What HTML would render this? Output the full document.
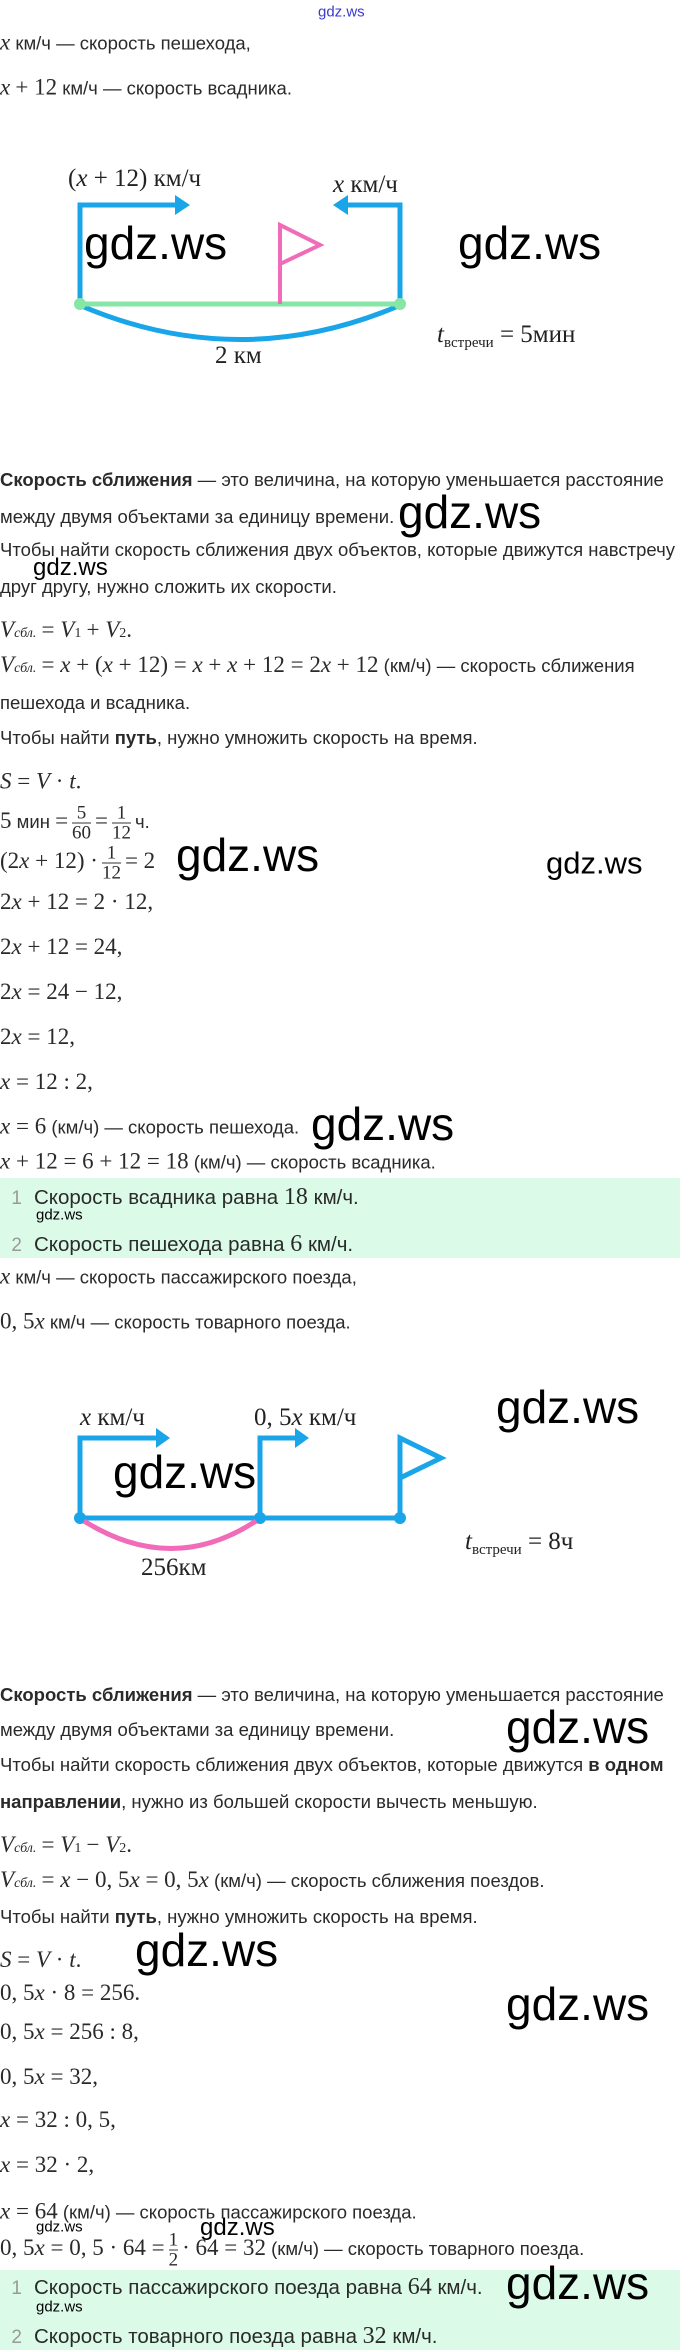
<!DOCTYPE html>
<html><head><meta charset="utf-8"><style>
body{margin:0;width:680px;height:2350px;position:relative;background:#fff;overflow:hidden;font-family:"Liberation Sans",sans-serif;color:#2a2a2a}
.t{position:absolute;left:0;white-space:nowrap;font-size:18.5px;line-height:22px;transform:translateY(-50%)}
i{font-family:"Liberation Serif",serif;font-style:italic;font-size:23px}
.s{font-family:"Liberation Serif",serif;font-size:23px}
b{font-weight:bold}
.g{position:absolute;font-family:"Liberation Sans",sans-serif;color:#000;white-space:nowrap;transform:translateY(-50%);line-height:1}
.big{font-size:46px}
.med{font-size:31px}
.sm{font-size:15px}
.box{position:absolute;left:0;width:680px;background:#dbfbe8}
.n{color:#999;display:inline-block;width:22px;text-align:right;margin-right:12px;font-size:19px}
.it{font-size:20.5px}
.it .s{font-size:24px}
.frac{display:inline-block;vertical-align:middle;text-align:center;font-family:"Liberation Serif",serif;font-size:19px;line-height:19px;margin:0 4px}
.frac span{display:block}
.frac span:first-child{border-bottom:1px solid #333}
svg{position:absolute;left:0}
</style></head><body>
<div class="g" style="left:318px;top:12px;font-size:15px;color:#3a3ad0">gdz.ws</div>
<div class="t" style="top:43px"><i>x</i> км/ч — скорость пешехода,</div>
<div class="t" style="top:88px"><i>x</i> <span class="s">+ 12</span> км/ч — скорость всадника.</div>

<svg width="680" height="400" style="top:0">
<g fill="none" stroke="#1aa5e8" stroke-width="5">
<path d="M80 304 V205 H178"/><path d="M400 304 V205 H345"/>
<path d="M84 307 Q240 372 396 307"/>
</g>
<polygon points="175,195 190,205 175,215" fill="#1aa5e8"/>
<polygon points="348,195 333,205 348,215" fill="#1aa5e8"/>
<line x1="80" y1="304" x2="400" y2="304" stroke="#86e6a5" stroke-width="5"/>
<circle cx="80" cy="304" r="6" fill="#86e6a5"/><circle cx="400" cy="304" r="6" fill="#86e6a5"/>
<path d="M280 304 V225 L320 245 L280 264" fill="none" stroke="#f06cb8" stroke-width="4"/>
<text x="68" y="186" font-family="Liberation Serif" font-size="25" fill="#222">(<tspan font-style="italic">x</tspan> + 12) км/ч</text>
<text x="333" y="192" font-family="Liberation Serif" font-size="25" fill="#222"><tspan font-style="italic">x</tspan> км/ч</text>
<text x="215" y="363" font-family="Liberation Serif" font-size="25" fill="#222">2 км</text>
<text x="437" y="342" font-family="Liberation Serif" font-size="25" fill="#222"><tspan font-style="italic">t</tspan><tspan font-size="15" dy="5">встречи</tspan><tspan dy="-5"> = 5мин</tspan></text>
</svg>
<div class="g big" style="left:84px;top:243px">gdz.ws</div>
<div class="g big" style="left:458px;top:243px">gdz.ws</div>

<div class="t" style="top:480px"><b>Скорость сближения</b> — это величина, на которую уменьшается расстояние</div>
<div class="t" style="top:517px">между двумя объектами за единицу времени.</div>
<div class="g big" style="left:398px;top:512px">gdz.ws</div>
<div class="t" style="top:550px">Чтобы найти скорость сближения двух объектов, которые движутся навстречу</div>
<div class="g" style="left:33px;top:568px;font-size:24px">gdz.ws</div>
<div class="t" style="top:587px">друг другу, нужно сложить их скорости.</div>
<div class="t" style="top:632px"><i>V</i><i style="font-size:14px">сбл.</i> <span class="s">= </span><i>V</i><span class="s" style="font-size:14px">1</span> <span class="s">+ </span><i>V</i><span class="s" style="font-size:14px">2</span><span class="s">.</span></div>
<div class="t" style="top:667px"><i>V</i><i style="font-size:14px">сбл.</i> <span class="s">= <i>x</i> + (<i>x</i> + 12) = <i>x</i> + <i>x</i> + 12 = 2<i>x</i> + 12</span> (км/ч) — скорость сближения</div>
<div class="t" style="top:703px">пешехода и всадника.</div>
<div class="t" style="top:738px">Чтобы найти <b>путь</b>, нужно умножить скорость на время.</div>
<div class="t" style="top:782px"><span class="s"><i>S</i> = <i>V</i> · <i>t</i>.</span></div>
<div class="t" style="top:823px"><span class="s">5</span> мин <span class="s">=</span><span class="frac"><span>5</span><span>60</span></span><span class="s">=</span><span class="frac"><span>1</span><span>12</span></span>ч.</div>
<div class="t" style="top:863px"><span class="s">(2<i>x</i> + 12) ·</span><span class="frac"><span>1</span><span>12</span></span><span class="s">= 2</span></div>
<div class="g big" style="left:176px;top:855px">gdz.ws</div>
<div class="g med" style="left:546px;top:863px">gdz.ws</div>
<div class="t s" style="top:902px">2<i>x</i> + 12 = 2 · 12,</div>
<div class="t s" style="top:947px">2<i>x</i> + 12 = 24,</div>
<div class="t s" style="top:992px">2<i>x</i> = 24 − 12,</div>
<div class="t s" style="top:1037px">2<i>x</i> = 12,</div>
<div class="t s" style="top:1082px"><i>x</i> = 12 : 2,</div>
<div class="t" style="top:1127px"><span class="s"><i>x</i> = 6</span> (км/ч) — скорость пешехода.</div>
<div class="g big" style="left:311px;top:1124px">gdz.ws</div>
<div class="t" style="top:1162px"><span class="s"><i>x</i> + 12 = 6 + 12 = 18</span> (км/ч) — скорость всадника.</div>
<div class="box" style="top:1178px;height:80px"></div>
<div class="t it" style="top:1198px"><span class="n">1</span>Скорость всадника равна <span class="s">18</span> км/ч.</div>
<div class="g sm" style="left:36px;top:1215px">gdz.ws</div>
<div class="t it" style="top:1245px"><span class="n">2</span>Скорость пешехода равна <span class="s">6</span> км/ч.</div>
<div class="t" style="top:1277px"><i>x</i> км/ч — скорость пассажирского поезда,</div>
<div class="t" style="top:1322px"><span class="s">0, 5<i>x</i></span> км/ч — скорость товарного поезда.</div>

<svg width="680" height="200" style="top:1390px">
<g fill="none" stroke="#1aa5e8" stroke-width="5">
<path d="M80 128 V48 H158"/><path d="M260 128 V48 H297"/>
<path d="M400 128 V48 L441 68 L400 88"/>
<line x1="80" y1="128" x2="400" y2="128"/>
</g>
<polygon points="156,38 170,48 156,58" fill="#1aa5e8"/>
<polygon points="295,38 309,48 295,58" fill="#1aa5e8"/>
<circle cx="80" cy="128" r="6" fill="#1aa5e8"/><circle cx="260" cy="128" r="6" fill="#1aa5e8"/><circle cx="400" cy="128" r="6" fill="#1aa5e8"/>
<path d="M84 131 Q172 186 256 131" fill="none" stroke="#f06cb8" stroke-width="5"/>
<text x="80" y="35" font-family="Liberation Serif" font-size="25" fill="#222"><tspan font-style="italic">x</tspan> км/ч</text>
<text x="254" y="35" font-family="Liberation Serif" font-size="25" fill="#222">0, 5<tspan font-style="italic">x</tspan> км/ч</text>
<text x="141" y="185" font-family="Liberation Serif" font-size="25" fill="#222">256км</text>
<text x="465" y="159" font-family="Liberation Serif" font-size="25" fill="#222"><tspan font-style="italic">t</tspan><tspan font-size="15" dy="5">встречи</tspan><tspan dy="-5"> = 8ч</tspan></text>
</svg>
<div class="g big" style="left:113px;top:1472px">gdz.ws</div>
<div class="g big" style="left:496px;top:1407px">gdz.ws</div>

<div class="t" style="top:1695px"><b>Скорость сближения</b> — это величина, на которую уменьшается расстояние</div>
<div class="t" style="top:1730px">между двумя объектами за единицу времени.</div>
<div class="g big" style="left:506px;top:1727px">gdz.ws</div>
<div class="t" style="top:1765px">Чтобы найти скорость сближения двух объектов, которые движутся <b>в одном</b></div>
<div class="t" style="top:1802px"><b>направлении</b>, нужно из большей скорости вычесть меньшую.</div>
<div class="t" style="top:1847px"><i>V</i><i style="font-size:14px">сбл.</i> <span class="s">= </span><i>V</i><span class="s" style="font-size:14px">1</span> <span class="s">− </span><i>V</i><span class="s" style="font-size:14px">2</span><span class="s">.</span></div>
<div class="t" style="top:1882px"><i>V</i><i style="font-size:14px">сбл.</i> <span class="s">= <i>x</i> − 0, 5<i>x</i> = 0, 5<i>x</i></span> (км/ч) — скорость сближения поездов.</div>
<div class="t" style="top:1917px">Чтобы найти <b>путь</b>, нужно умножить скорость на время.</div>
<div class="t s" style="top:1960px"><i>S</i> = <i>V</i> · <i>t</i>.</div>
<div class="g big" style="left:135px;top:1950px">gdz.ws</div>
<div class="t s" style="top:1993px">0, 5<i>x</i> · 8 = 256.</div>
<div class="g big" style="left:506px;top:2004px">gdz.ws</div>
<div class="t s" style="top:2032px">0, 5<i>x</i> = 256 : 8,</div>
<div class="t s" style="top:2077px">0, 5<i>x</i> = 32,</div>
<div class="t s" style="top:2120px"><i>x</i> = 32 : 0, 5,</div>
<div class="t s" style="top:2165px"><i>x</i> = 32 · 2,</div>
<div class="t" style="top:2212px"><span class="s"><i>x</i> = 64</span> (км/ч) — скорость пассажирского поезда.</div>
<div class="g sm" style="left:36px;top:2227px">gdz.ws</div>
<div class="g" style="left:200px;top:2228px;font-size:24px">gdz.ws</div>
<div class="t" style="top:2250px"><span class="s">0, 5<i>x</i> = 0, 5 · 64 =</span><span class="frac"><span>1</span><span>2</span></span><span class="s">· 64 = 32</span> (км/ч) — скорость товарного поезда.</div>
<div class="box" style="top:2270px;height:80px"></div>
<div class="t it" style="top:2288px"><span class="n">1</span>Скорость пассажирского поезда равна <span class="s">64</span> км/ч.</div>
<div class="g big" style="left:506px;top:2283px">gdz.ws</div>
<div class="g sm" style="left:36px;top:2307px">gdz.ws</div>
<div class="t it" style="top:2337px"><span class="n">2</span>Скорость товарного поезда равна <span class="s">32</span> км/ч.</div>
</body></html>
